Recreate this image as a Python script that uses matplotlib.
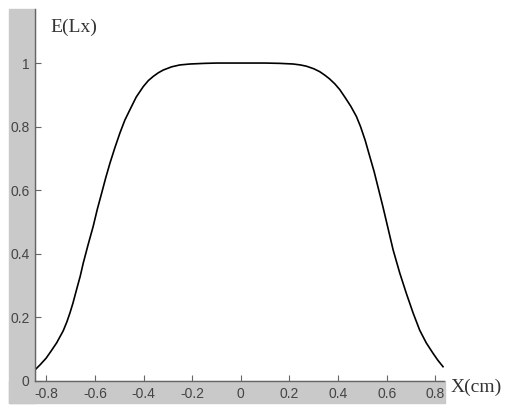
import matplotlib.pyplot as plt
from matplotlib.patches import Rectangle

# readings of the illuminance profile E(Lx) against X(cm)
x_cm = [-0.846, -0.825, -0.80, -0.78, -0.757, -0.73, -0.715, -0.702, -0.69,
        -0.675, -0.66, -0.648, -0.628, -0.607, -0.59, -0.572, -0.555, -0.538,
        -0.518, -0.497, -0.477, -0.456, -0.43, -0.401, -0.38, -0.36, -0.34,
        -0.319, -0.285, -0.251, -0.209, -0.15, -0.1, 0.0, 0.1, 0.16, 0.215,
        0.245, 0.27, 0.30, 0.324, 0.345, 0.365, 0.387, 0.407, 0.43, 0.452,
        0.475, 0.492, 0.511, 0.530, 0.548, 0.566, 0.584, 0.605, 0.626, 0.653,
        0.680, 0.708, 0.735, 0.762, 0.790, 0.81, 0.831]
e_lx = [0.035, 0.051, 0.072, 0.094, 0.120, 0.158, 0.186, 0.215, 0.245,
        0.288, 0.330, 0.370, 0.428, 0.486, 0.540, 0.591, 0.640, 0.685,
        0.733, 0.780, 0.820, 0.853, 0.893, 0.926, 0.945, 0.958, 0.969,
        0.978, 0.988, 0.994, 0.997, 0.999, 1.0, 1.0, 1.0, 0.999, 0.997,
        0.994, 0.99, 0.982, 0.973, 0.962, 0.950, 0.934, 0.916, 0.890, 0.864,
        0.832, 0.800, 0.757, 0.706, 0.658, 0.603, 0.548, 0.480, 0.412, 0.340,
        0.276, 0.214, 0.160, 0.120, 0.087, 0.065, 0.045]

xticks = [-0.8, -0.6, -0.4, -0.2, 0, 0.2, 0.4, 0.6, 0.8]
xtick_labels = ['-0.8', '-0.6', '-0.4', '-0.2', '0', '0.2', '0.4', '0.6', '0.8']
yticks = [0, 0.2, 0.4, 0.6, 0.8, 1]
ytick_labels = ['0', '0.2', '0.4', '0.6', '0.8', '1']

W, H = 507, 405
fig = plt.figure(figsize=(W / 100, H / 100), dpi=100)

# grey L-shaped band behind the axis labels (MATLAB-like)
grey = '#c9c9c9'
fig.patches.append(Rectangle((9 / W, 1 - 403 / H), (35 - 9) / W, (403 - 9) / H,
                             transform=fig.transFigure, color=grey, zorder=-5))
fig.patches.append(Rectangle((9 / W, 1 - 403 / H), (445 - 9) / W, (403 - 381) / H,
                             transform=fig.transFigure, color=grey, zorder=-5))

ax = fig.add_axes([35 / W, 1 - 381 / H, (444 - 35) / W, (381 - 9) / H])
ax.set_zorder(2)
ax.patch.set_alpha(0)
ax.plot(x_cm, e_lx, color='black', lw=1.2)

ax.set_xlim(-0.846, 0.835)
ax.set_ylim(0, 1.17)
ax.spines['top'].set_visible(False)
ax.spines['right'].set_visible(False)
for s in ['left', 'bottom']:
    ax.spines[s].set_color('#666666')
    ax.spines[s].set_linewidth(1.0)

ax.set_xticks(xticks, xtick_labels)
ax.set_yticks(yticks, ytick_labels)
ax.tick_params(direction='in', length=4, width=0.8, colors='#666666',
               labelcolor='#444444', labelsize=10, pad=4)
for lab in ax.get_xticklabels() + ax.get_yticklabels():
    lab.set_family('Liberation Sans')

fig.text(50 / W, 1 - 27 / H, 'E(Lx)', family='Liberation Serif', fontsize=14,
         color='#333333', ha='left', va='center')
fig.text(451 / W, 1 - 387 / H, 'X(cm)', family='Liberation Serif', fontsize=14,
         color='#333333', ha='left', va='center')

fig.savefig('out.png', dpi=100)
